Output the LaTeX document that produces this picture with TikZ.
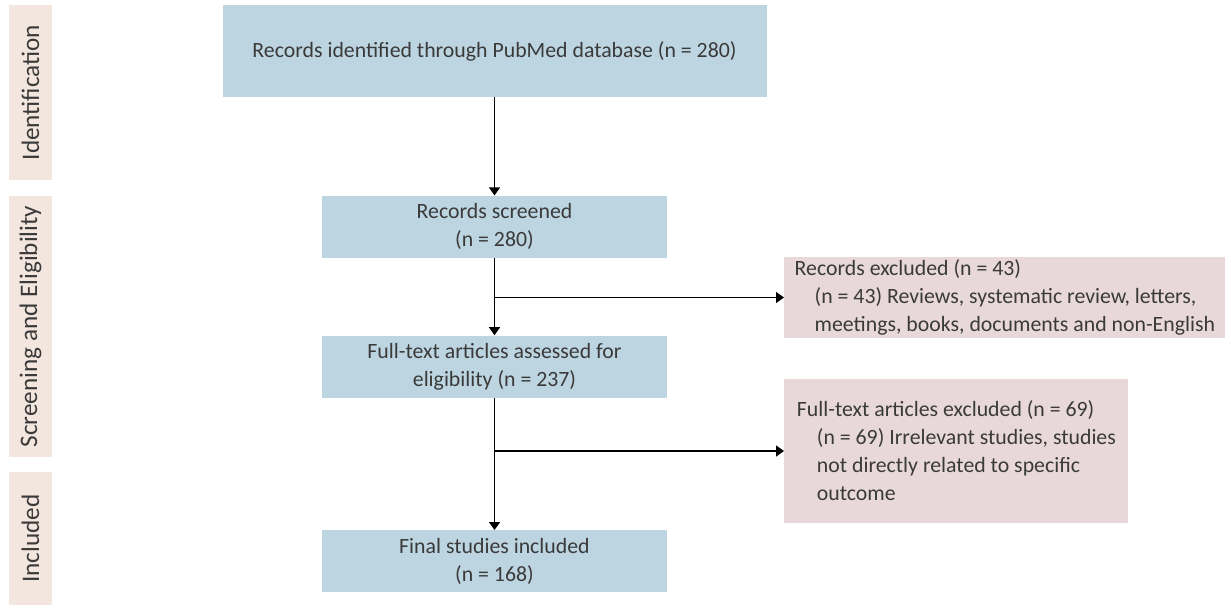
\documentclass[tikz,border=0pt]{standalone}
\usepackage{fontspec}
\setmainfont{Carlito}
\usetikzlibrary{arrows.meta,positioning,calc}
\definecolor{stageblue}{HTML}{BDD5E1}
\definecolor{phasetan}{HTML}{F3E6DE}
\definecolor{exclrose}{HTML}{E8D8DA}
\definecolor{inkgray}{HTML}{3A3A3A}

\begin{document}
\begin{tikzpicture}[
    x=0.5pt, y=-0.5pt,
    font=\fontsize{10.9pt}{14pt}\selectfont,
    stage/.style={fill=stageblue, text=inkgray, align=center, minimum width=172.5pt, minimum height=31pt, inner sep=0pt},
    phase/.style={fill=phasetan, text=inkgray, rotate=90, minimum height=21.5pt, inner sep=0pt, font=\fontsize{12.6pt}{15pt}\selectfont},
    excl/.style={fill=exclrose, text=inkgray, align=left, anchor=west, inner sep=0pt},
    arrow/.style={-{Triangle[length=4pt,width=5.5pt]}, line width=0.65pt}
]
\useasboundingbox (0,0) rectangle (1231,607);

% phase labels
\node[phase, minimum width=87.5pt] (pid) at (30.5,92.5) {Identification};
\node[phase, minimum width=130.5pt] (pse) at (30.5,326.5) {Screening and Eligibility};
\node[phase, minimum width=66.5pt] (pin) at (30.5,538.5) {Included};

% main flow
\node[stage, minimum width=272pt, minimum height=46pt] (ident) at (494.5,51) {Records identified through PubMed database (n = 280)};
\node[stage, below=49pt of ident] (screen) {Records screened\\(n = 280)};
\node[stage, below=38.5pt of screen] (full) {Full-text articles assessed for\\eligibility (n = 237)};
\node[stage, below=66pt of full] (final) {Final studies included\\(n = 168)};

% exclusions
\node[excl, minimum width=220.5pt, minimum height=40.5pt] (excl1) at (784,297.5)
    {Records excluded (n = 43)\\\hspace*{10pt}(n = 43) Reviews, systematic review, letters,\\\hspace*{10pt}meetings, books, documents and non-English};
\node[excl, minimum width=172pt, minimum height=72pt] (excl2) at (784,451)
    {Full-text articles excluded (n = 69)\\\hspace*{10pt}(n = 69) Irrelevant studies, studies\\\hspace*{10pt}not directly related to specific\\\hspace*{10pt}outcome};

\draw[arrow] (ident) -- (screen);
\draw[arrow] (screen) -- (full);
\draw[arrow] (full) -- (final);
\draw[arrow] (screen.south |- excl1.west) -- (excl1.west);
\draw[arrow] (full.south |- excl2.west) -- (excl2.west);
\end{tikzpicture}
\end{document}
